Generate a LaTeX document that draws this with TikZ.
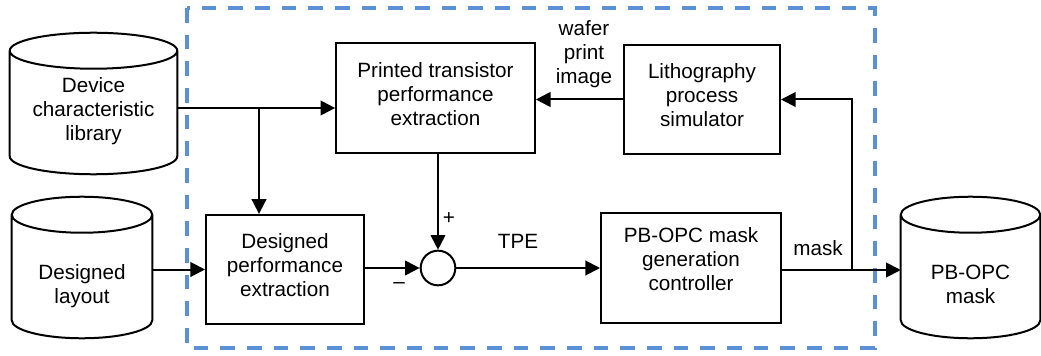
\documentclass[tikz,border=0pt]{standalone}
\usepackage{fontspec}
\setmainfont{Liberation Sans}
\usetikzlibrary{calc,arrows.meta}
\definecolor{boxblue}{RGB}{91,143,214}
\tikzset{
	block/.style={draw,line width=1.5pt,inner sep=0pt},
	store/.style={inner sep=0pt,minimum height=105.75pt},
	boxtext/.style={align=center},
	arr/.style={line width=1.5pt,-{Triangle[length=11pt,width=11pt]}},
}
\begin{document}
\begin{tikzpicture}[x=0.75pt,y=-0.75pt,font=\fontsize{15.5}{18}\selectfont]
		\useasboundingbox (0,0) rectangle (1041,356);
		%Cadre
		\draw[boxblue,line width=2.5pt,dash pattern=on 11pt off 9pt] (187,8) rectangle (875,348);

		%Bases de donnees
		\node[store,minimum width=125.25pt,label={[boxtext,yshift=-5.6pt]center:Device\\characteristic\\library}] (dcl) at (93.5,103.5) {};
		\node[store,minimum width=105pt,label={[boxtext,yshift=-13.9pt]center:Designed\\layout}] (dl) at (82,267.5) {};
		\node[store,minimum width=104.25pt,label={[boxtext,yshift=-13pt]center:PB-OPC\\mask}] (pbm) at (970.5,267.5) {};
		\foreach \c in {dcl,dl,pbm}{
			\draw[line width=1.5pt] let \p1=(\c.north west),\p2=(\c.south east),\n1={(\x2-\x1)/2} in
				(\x1,{\y1-13.5pt}) -- (\x1,{\y2+13.5pt}) arc[start angle=180,end angle=360,x radius=\n1,y radius=13.5pt]
				-- (\x2,{\y1-13.5pt}) ({\x1+\n1},{\y1-13.5pt}) ellipse[x radius=\n1,y radius=13.5pt];
			}

		%Blocs
		\node[block,minimum width=149pt,minimum height=82.5pt,label={[boxtext,yshift=3pt]center:Printed transistor\\performance\\extraction}] (pte) at (435.5,98) {};
		\node[block,minimum width=118.5pt,minimum height=82pt,label={[boxtext,yshift=3pt]center:Designed\\performance\\extraction}] (dpe) at (285,269.5) {};
		\node[block,minimum width=117pt,minimum height=82pt,label={[boxtext,yshift=3pt]center:Lithography\\process\\simulator}] (lps) at (702,99.5) {};
		\node[block,minimum width=135pt,minimum height=82.5pt,label={[boxtext,yshift=6.5pt]center:PB-OPC mask\\generation\\controller}] (mgc) at (691,268) {};
		\node[draw,circle,line width=1.5pt,minimum size=26pt,inner sep=0pt] (sum) at (438,268) {};

		%Fleches
		\coordinate (j1) at (259,108);
		\coordinate (j2) at (852,270);
		\draw[arr] (dcl.east |- j1) -- (pte.west |- j1);
		\draw[arr] (j1) -- (j1 |- dpe.north);
		\draw[arr] (dl.east |- dpe.west) -- (dpe.west);
		\draw[arr] (dpe.east |- sum) -- (sum.west);
		\draw[arr] (pte.south -| sum) -- (sum.north);
		\draw[arr] (sum.east) -- (mgc.west |- sum);
		\draw[arr] (mgc.east |- j2) -- (pbm.west |- j2);
		\draw[arr] (j2) |- (lps.east);
		\draw[arr] (lps.west) -- (pte.east |- lps.west);

		%Etiquettes
		\node (plus) at (449,219) {+};
		\node (minus) at (399,286) {--};
		\node (tpe) at (518,241) {TPE};
		\node (mask) at (818,248) {mask};
		\node[align=center] (wpi) at (584,54) {wafer\\print\\image};
\end{tikzpicture}
\end{document}
